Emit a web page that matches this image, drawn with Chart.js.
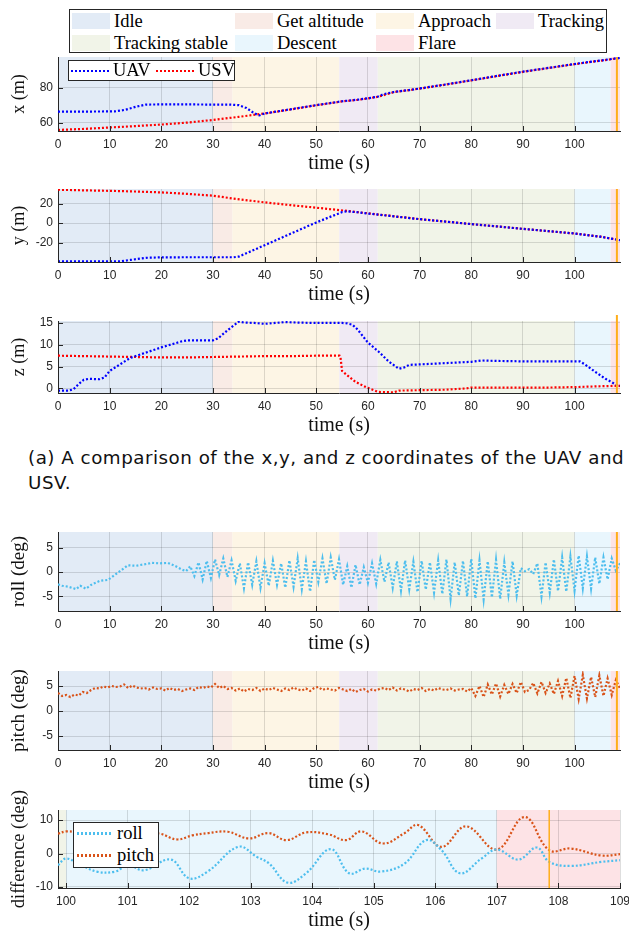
<!DOCTYPE html>
<html>
<head>
<meta charset="utf-8">
<script src="https://cdn.jsdelivr.net/npm/chart.js@4.4.1/dist/chart.umd.min.js"></script>
<style>
  body { margin: 0; background: #fff; }
  #page { position: relative; width: 629px; height: 932px; overflow: hidden; background: #fff; }
  .box { position: absolute; background: #fff; border: 1px solid #262626; box-sizing: border-box;
         font-family: "Liberation Serif", "DejaVu Serif", serif; font-size: 18.5px; color: #000; }
  .item { position: absolute; white-space: nowrap; line-height: 20px; }
  .swatch { position: absolute; width: 38px; height: 16px; }
  .dots { position: absolute; height: 2.5px; }
  #caption { position: absolute; left: 28px; top: 445px; font-family: "DejaVu Sans", sans-serif;
             font-size: 18.3px; letter-spacing: 0.5px; line-height: 25px; color: #111; white-space: nowrap; }
</style>
</head>
<body>
<div id="page">
  <div id="caption">(a) A comparison of the x,y, and z coordinates of the UAV and<br>USV.</div>
</div>
<script>
// ---- flight phases ----
const phaseNames = ["Idle", "Get altitude", "Approach", "Tracking", "Tracking stable", "Descent", "Flare"];
const phaseStart = [0, 30, 33.75, 54.45, 61.9, 100, 107];
const phaseEnd = [30, 33.75, 54.45, 61.9, 100, 107, 109];
const phaseColors = ["#e2ebf6", "#f9ebe6", "#fdf5e5", "#f0eaf4", "#f1f4e8", "#e9f6fd", "#fde3e6"];

const timeTicks = [0, 10, 20, 30, 40, 50, 60, 70, 80, 90, 100];
const zoomTicks = [100, 101, 102, 103, 104, 105, 106, 107, 108, 109];
const touchdownFull = 108.2;
const touchdownZoom = 107.85;

// ---- x position (m) ----
const uavXTime = [0, 5, 11, 13, 15, 17, 20, 25, 30, 33, 35, 36.5, 38, 39, 40, 45, 50, 55, 58, 60, 62, 63, 65, 68, 70, 75, 80, 85, 90, 95, 100, 105, 108.8];
const uavX = [66.5, 66.5, 66.6, 67.5, 69.2, 70.5, 70.6, 70.6, 70.5, 70.5, 70.2, 68.5, 65.5, 64.3, 65.4, 67.8, 70.2, 72.4, 73.3, 74.1, 75.1, 76.4, 77.7, 78.8, 79.7, 82, 84.4, 86.9, 89.3, 91.5, 93.7, 95.7, 97.2];
const usvXTime = [0, 5, 10, 15, 20, 25, 30, 35, 40, 45, 50, 55, 58, 60, 62, 65, 68, 70, 75, 80, 85, 90, 95, 100, 105, 108.8];
const usvX = [56, 56.6, 57.4, 58.2, 59.1, 60.2, 61.7, 63.5, 65.4, 67.7, 70.1, 72.3, 73.2, 74, 75, 77.6, 78.8, 79.6, 81.9, 84.3, 86.8, 89.2, 91.4, 93.6, 95.6, 97.1];

// ---- y position (m) ----
const uavYTime = [0, 5, 12, 14, 17, 20, 25, 30, 34, 35, 40, 45, 50, 55, 56, 58, 60, 62, 65, 70, 75, 80, 85, 90, 95, 100, 105, 108.8];
const uavY = [-39.5, -39.5, -39.4, -38, -35.8, -35.3, -35.2, -35.2, -35.2, -34.5, -22.8, -11, 0.7, 11.4, 12.2, 11.2, 9.9, 8.8, 7, 4.1, 1.6, -1, -3.4, -5.9, -8.3, -10.7, -14, -17.6];
const usvYTime = [0, 5, 10, 15, 20, 25, 30, 34, 40, 45, 50, 56, 60, 65, 70, 75, 80, 85, 90, 95, 100, 105, 108.8];
const usvY = [34.5, 33.8, 33.3, 32.6, 31.7, 30.2, 28.3, 25.3, 21.4, 18.6, 15.9, 12.6, 10.1, 7.1, 4.1, 1.6, -1, -3.4, -5.9, -8.3, -10.7, -14, -17.6];

// ---- z position (m) ----
const uavZTime = [0, 2, 3, 4, 5, 6, 8, 9, 10, 12, 14, 16, 18, 20, 22, 24, 25, 27, 30, 31, 33, 35, 36, 38, 40, 42, 44, 46, 50, 55, 56, 57, 58, 60, 62, 64, 66, 67, 68, 70, 75, 80, 82, 85, 90, 95, 100, 101, 102, 104, 106, 108, 108.8];
const uavZ = [-0.5, -0.5, -0.2, 1, 2, 2.2, 2.1, 2.5, 4, 5.5, 7, 7.8, 8.6, 9.4, 10.1, 10.8, 11, 11, 11, 11.5, 13.5, 15.3, 15.1, 15, 14.8, 15, 15.2, 15.1, 15, 15, 14.9, 14.6, 13.5, 10.5, 8.5, 6.2, 4.5, 4.8, 5.4, 5.5, 5.8, 6.1, 6.4, 6.3, 6.2, 6.2, 6.2, 6.2, 5.5, 3.8, 2.2, 0.9, 0.6];
const usvZTime = [0, 5, 10, 15, 20, 25, 30, 35, 40, 45, 50, 54.5, 54.7, 55, 56, 57.6, 59.6, 62, 65, 66, 70, 75, 79, 80, 85, 90, 95, 100, 105, 108.8];
const usvZ = [7.5, 7.4, 7.3, 7.2, 7.1, 7.1, 7.2, 7.3, 7.4, 7.4, 7.5, 7.5, 7, 4, 3, 1.5, 0.3, -0.8, -0.9, -0.5, -0.4, -0.3, 0, 0.2, 0.2, 0.2, 0.2, 0.3, 0.5, 0.6];

// ---- attitude (deg) ----
const rollTimeA = [0, 0.8, 2, 3.5, 4.3, 5.4, 6.6, 8.1, 9.7, 11.2, 12.4, 13.5, 15.1, 16.7, 18.2, 19.7, 21.3, 22.8, 24, 24.8];
const rollA = [-2.5, -2.8, -3.0, -3.5, -2.8, -3.4, -2.5, -1.8, -1.6, -0.4, 0.5, 1.4, 1.3, 1.6, 1.9, 1.8, 1.9, 1.2, 0.5, 0.2];
// from 25.6 s on, one sample every 0.8 s
const rollStart = 25.6;
const rollStep = 0.8;
const rollB = [
  1.2, -0.8, 2.0, -1.5, 2.3, -1.2, 2.6, -0.6, 2.8, -1.0,
  2.4, -1.8, 1.8, -3.3, 2.0, -2.6, 2.2, -3.2, 1.8, -2.8,
  2.3, -2.6, 1.8, -3.2, 2.4, -3.0, 2.8, -3.5, 2.2, -4.0,
  2.5, -2.0, 2.8, -2.4, 3.0, -1.6, 2.6, -2.6, 1.2, -3.2,
  1.5, -2.6, 1.0, -2.2, 1.8, -2.4, 2.5, -2.0, 2.0, -3.2,
  2.2, -3.8, 2.4, -3.5, 2.1, -4.1, 2.3, -3.6, 2.0, -4.2,
  2.4, -4.5, 2.6, -5.5, 2.0, -4.8, 2.3, -5.0, 2.7, -5.4,
  2.4, -5.6, 2.2, -5.2, 2.5, -5.5, 2.0, -4.6, 2.2, -4.8,
  0.8, 0.2, 0.6, -0.4, 1.8, -5.0, 2.0, -4.2, 2.6, -3.9,
  3.0, -4.0, 3.2, -3.8, 3.4, -3.3, 3.2, -3.4, 3.0, -2.4,
  3.0, -1.5, 2.8, 0.3, 1.8
];
// pitch, one sample every 0.8 s from 0 s
const pitchStart = 0;
const pitchStep = 0.8;
const pitch = [
  3.6, 3.0, 3.2, 2.8, 3.3, 3.1, 3.8, 3.6, 4.2, 4.6,
  4.5, 4.9, 4.7, 5.0, 4.8, 4.9, 5.3, 4.6, 5.1, 4.7,
  4.5, 4.6, 4.3, 4.7, 4.4, 4.5, 4.1, 4.6, 4.2, 4.4,
  4.0, 4.3, 4.5, 4.2, 4.8, 4.6, 4.9, 4.7, 5.4, 4.6,
  5.0, 4.4, 4.6, 4.1, 4.5, 3.9, 4.4, 4.2, 4.6, 4.0,
  4.5, 4.2, 4.6, 4.3, 4.0, 4.5, 4.2, 4.7, 4.3, 4.1,
  4.5, 4.0, 4.6, 4.8, 4.2, 4.5, 4.3, 4.1, 4.6, 4.3,
  4.0, 4.4, 3.8, 4.2, 4.4, 3.9, 4.3, 4.1, 4.5, 4.6,
  4.2, 4.7, 4.1, 4.5, 4.3, 3.9, 4.4, 4.2, 4.6, 4.0,
  4.4, 4.1, 4.6, 4.3, 4.2, 4.5, 4.1, 4.3, 4.4, 3.9,
  4.6, 3.0, 5.0, 2.8, 5.3, 3.3, 5.5, 2.9, 5.2, 3.4,
  5.4, 3.6, 5.8, 3.8, 4.2, 5.6, 3.5, 5.8, 3.6, 5.5,
  3.4, 6.0, 3.0, 6.6, 2.6, 7.0, 2.4, 7.2, 2.5, 6.8,
  2.8, 7.1, 3.0, 6.5, 3.2, 6.2, 4.5
];

// ---- attitude difference during the landing (deg) ----
const rollDiffTime = [99.87, 100.0, 100.2, 100.5, 100.8, 101.0, 101.27, 101.7, 102.0, 102.3, 102.8, 103.1, 103.3, 103.6, 103.9, 104.3, 104.6, 104.86, 105.12, 105.5, 105.85, 106.1, 106.4, 106.75, 107.0, 107.35, 107.65, 107.85, 108.2, 108.7, 109.0];
const rollDiff = [-3.5, -1.5, -3.0, -5.4, -5.4, -3.5, -5.0, -1.8, -7.4, -5.4, 2.0, -1.0, -3.0, -8.7, -5.9, 1.3, -5.9, -4.5, -5.4, -3.0, 4.0, 1.0, -5.9, -1.5, 1.2, -1.8, 1.8, -2.5, -3.7, -2.5, -2.0];
const pitchDiffTime = [99.87, 100.0, 100.23, 100.62, 100.9, 101.2, 101.53, 101.8, 102.05, 102.3, 102.63, 102.97, 103.29, 103.58, 103.9, 104.27, 104.55, 104.8, 105.15, 105.5, 105.72, 106.1, 106.5, 107.0, 107.45, 107.85, 108.2, 108.7, 109.0];
const pitchDiff = [5.9, 6.6, 6.3, 5.9, 6.4, 6.2, 5.9, 4.2, 5.4, 6.1, 6.5, 4.5, 6.1, 4.0, 6.3, 5.7, 4.0, 6.6, 3.0, 6.1, 8.5, 2.0, 8.1, 1.2, 10.9, 1.0, 1.5, -0.6, -0.2];

const BLUE = "#0000ff";
const RED = "#ff0000";
const ROLL = "#4dbeee";
const PITCH = "#d95319";
const ORANGE = "#ffae1a";
const axisColor = "#262626";
const gridColor = "rgba(0,0,0,0.13)";
const serif = '"Liberation Serif", "DejaVu Serif", serif';
const sans = '"Liberation Sans", Arial, sans-serif';

const page = document.getElementById("page");

function points(times, values) {
    return values.map((v, i) => ({ x: times[i], y: v }));
}

function sampled(start, step, values) {
    return values.map((v, i) => ({ x: start + i * step, y: v }));
}

function dotted(label, data, color, tension) {
    return {
        label,
        data,
        borderColor: color,
        borderWidth: 2.2,
        borderDash: [2, 2],
        pointRadius: 0,
        fill: false,
        tension: tension || 0
    };
}

// coloured phase bands behind the grid
const phaseBands = {
    id: "phaseBands",
    beforeDraw(chart) {
        const { ctx, chartArea: a, scales: { x } } = chart;
        ctx.save();
        phaseNames.forEach((name, i) => {
            const x0 = Math.max(a.left, x.getPixelForValue(phaseStart[i]));
            const x1 = Math.min(a.right, x.getPixelForValue(phaseEnd[i]));
            if (x1 <= x0) return;
            ctx.fillStyle = phaseColors[i];
            ctx.fillRect(x0, a.top, x1 - x0, a.bottom - a.top);
        });
        ctx.restore();
    }
};

// matlab style ticks pointing into the axes
const innerTicks = {
    id: "innerTicks",
    afterDraw(chart) {
        const { ctx, chartArea: a, scales: { x, y } } = chart;
        ctx.save();
        ctx.strokeStyle = axisColor;
        ctx.lineWidth = 1;
        ctx.beginPath();
        x.ticks.forEach(t => {
            const px = Math.round(x.getPixelForValue(t.value)) + 0.5;
            ctx.moveTo(px, a.bottom);
            ctx.lineTo(px, a.bottom - 5);
        });
        y.ticks.forEach(t => {
            const py = Math.round(y.getPixelForValue(t.value)) + 0.5;
            ctx.moveTo(a.left, py);
            ctx.lineTo(a.left + 5, py);
        });
        ctx.stroke();
        ctx.restore();
    }
};

// touchdown marker
const touchdownLine = {
    id: "touchdownLine",
    afterDatasetsDraw(chart, args, opts) {
        const { ctx, chartArea: a, scales: { x } } = chart;
        const px = x.getPixelForValue(opts.at);
        ctx.save();
        ctx.strokeStyle = ORANGE;
        ctx.lineWidth = opts.width;
        ctx.beginPath();
        ctx.moveTo(px, a.top - (opts.over || 0));
        ctx.lineTo(px, a.bottom);
        ctx.stroke();
        ctx.restore();
    }
};

function plot(cfg) {
    const pad = cfg.pad || 10;
    const axisH = 45;
    const canvas = document.createElement("canvas");
    canvas.width = 629;
    canvas.height = cfg.bottom - cfg.top + pad + axisH;
    canvas.style.cssText = "position:absolute;left:0;top:" + (cfg.top - pad) + "px";
    page.appendChild(canvas);

    return new Chart(canvas, {
        type: "line",
        data: { datasets: cfg.datasets },
        options: {
            responsive: false,
            animation: false,
            layout: { padding: { top: pad, right: 9, left: 0, bottom: 0 } },
            plugins: {
                legend: { display: false },
                tooltip: { enabled: false },
                touchdownLine: { at: cfg.touchdown, width: cfg.touchWidth || 2, over: cfg.touchOver }
            },
            scales: {
                x: {
                    type: "linear",
                    min: cfg.xMin,
                    max: cfg.xMax,
                    bounds: "data",
                    afterBuildTicks: s => { s.ticks = cfg.xTicks.map(v => ({ value: v })); },
                    afterFit: s => { s.height = axisH; s.paddingLeft = 0; s.paddingRight = 0; },
                    grid: { color: gridColor, drawTicks: false },
                    border: { color: axisColor, width: 1 },
                    ticks: { padding: 6, color: axisColor, font: { family: sans, size: 12 }, maxRotation: 0, autoSkip: false },
                    title: {
                        display: true, text: "time (s)", color: "#111",
                        font: { family: serif, size: 20 }, padding: { top: 0, bottom: 0 }
                    }
                },
                y: {
                    min: cfg.yMin,
                    max: cfg.yMax,
                    bounds: "data",
                    afterBuildTicks: s => { s.ticks = cfg.yTicks.map(v => ({ value: v })); },
                    afterFit: s => { s.width = 58; s.paddingTop = 0; s.paddingBottom = 0; },
                    grid: { color: gridColor, drawTicks: false },
                    border: { color: axisColor, width: 1 },
                    ticks: { padding: 5, color: axisColor, font: { family: sans, size: 12 } },
                    title: {
                        display: true, text: cfg.yTitle, color: "#111",
                        font: { family: serif, size: cfg.yTitleSize || 18 }, padding: { top: 8, bottom: 0 }
                    }
                }
            }
        },
        plugins: [phaseBands, innerTicks, touchdownLine]
    });
}

plot({
    top: 57, bottom: 131, xMin: 0, xMax: 108.8, xTicks: timeTicks,
    yMin: 55.4, yMax: 97.7, yTicks: [60, 80], yTitle: "x (m)", touchdown: touchdownFull,
    datasets: [
        dotted("UAV", points(uavXTime, uavX), BLUE),
        dotted("USV", points(usvXTime, usvX), RED)
    ]
});

plot({
    top: 189, bottom: 262, xMin: 0, xMax: 108.8, xTicks: timeTicks,
    yMin: -40.1, yMax: 35.2, yTicks: [-20, 0, 20], yTitle: "y (m)", touchdown: touchdownFull,
    datasets: [
        dotted("UAV", points(uavYTime, uavY), BLUE),
        dotted("USV", points(usvYTime, usvY), RED)
    ]
});

plot({
    top: 321, bottom: 393, xMin: 0, xMax: 108.8, xTicks: timeTicks,
    yMin: -1.05, yMax: 15.45, yTicks: [0, 5, 10, 15], yTitle: "z (m)", touchdown: touchdownFull, touchOver: 6,
    datasets: [
        dotted("UAV", points(uavZTime, uavZ), BLUE),
        dotted("USV", points(usvZTime, usvZ), RED)
    ]
});

plot({
    top: 532, bottom: 611, xMin: 0, xMax: 108.8, xTicks: timeTicks,
    yMin: -8, yMax: 8.25, yTicks: [-5, 0, 5], yTitle: "roll (deg)", yTitleSize: 19, touchdown: touchdownFull,
    datasets: [
        dotted("roll", points(rollTimeA, rollA).concat(sampled(rollStart, rollStep, rollB)), ROLL)
    ]
});

plot({
    top: 671, bottom: 750, xMin: 0, xMax: 108.8, xTicks: timeTicks,
    yMin: -7.8, yMax: 8, yTicks: [-5, 0, 5], yTitle: "pitch (deg)", yTitleSize: 19, touchdown: touchdownFull,
    datasets: [
        dotted("pitch", sampled(pitchStart, pitchStep, pitch), PITCH)
    ]
});

plot({
    top: 810, bottom: 888, pad: 40, xMin: 99.87, xMax: 109, xTicks: zoomTicks,
    yMin: -10.3, yMax: 13, yTicks: [-10, 0, 10], yTitle: "difference (deg)", yTitleSize: 18.5,
    touchdown: touchdownZoom, touchWidth: 1.5,
    datasets: [
        dotted("roll", points(rollDiffTime, rollDiff), ROLL, 0.4),
        dotted("pitch", points(pitchDiffTime, pitchDiff), PITCH, 0.4)
    ]
});

// ---- legends ----
function box(left, top, width, height) {
    const el = document.createElement("div");
    el.className = "box";
    el.style.cssText = `left:${left}px;top:${top}px;width:${width}px;height:${height}px`;
    page.appendChild(el);
    return el;
}

function label(parent, text, left, top) {
    const el = document.createElement("div");
    el.className = "item";
    el.textContent = text;
    el.style.left = left + "px";
    el.style.top = top + "px";
    parent.appendChild(el);
}

function dotSample(parent, color, left, top, width) {
    const el = document.createElement("div");
    el.className = "dots";
    el.style.cssText = `left:${left}px;top:${top}px;width:${width}px;` +
        `background:repeating-linear-gradient(90deg, ${color} 0 2px, transparent 2px 4px)`;
    parent.appendChild(el);
}

// phase legend, four columns in two rows
const phaseBox = box(69, 9, 538, 44);
const colX = [2, 165, 306, 426];
phaseNames.forEach((name, i) => {
    const col = i < 4 ? i : i - 4;
    const rowTop = i < 4 ? 3 : 25;
    const sw = document.createElement("div");
    sw.className = "swatch";
    sw.style.cssText = `left:${colX[col]}px;top:${rowTop}px;background:${phaseColors[i]}`;
    phaseBox.appendChild(sw);
    label(phaseBox, name, colX[col] + 42, rowTop - 2);
});

const vehicleBox = box(68, 60, 167, 21);
dotSample(vehicleBox, BLUE, 2, 8.5, 39);
label(vehicleBox, "UAV", 44, -1);
dotSample(vehicleBox, RED, 87, 8.5, 39);
label(vehicleBox, "USV", 129, -1);

const attBox = box(73, 822, 86, 46);
dotSample(attBox, ROLL, 3, 9, 36);
label(attBox, "roll", 43, 0);
dotSample(attBox, PITCH, 3, 31, 36);
label(attBox, "pitch", 43, 22);
</script>
</body>
</html>
